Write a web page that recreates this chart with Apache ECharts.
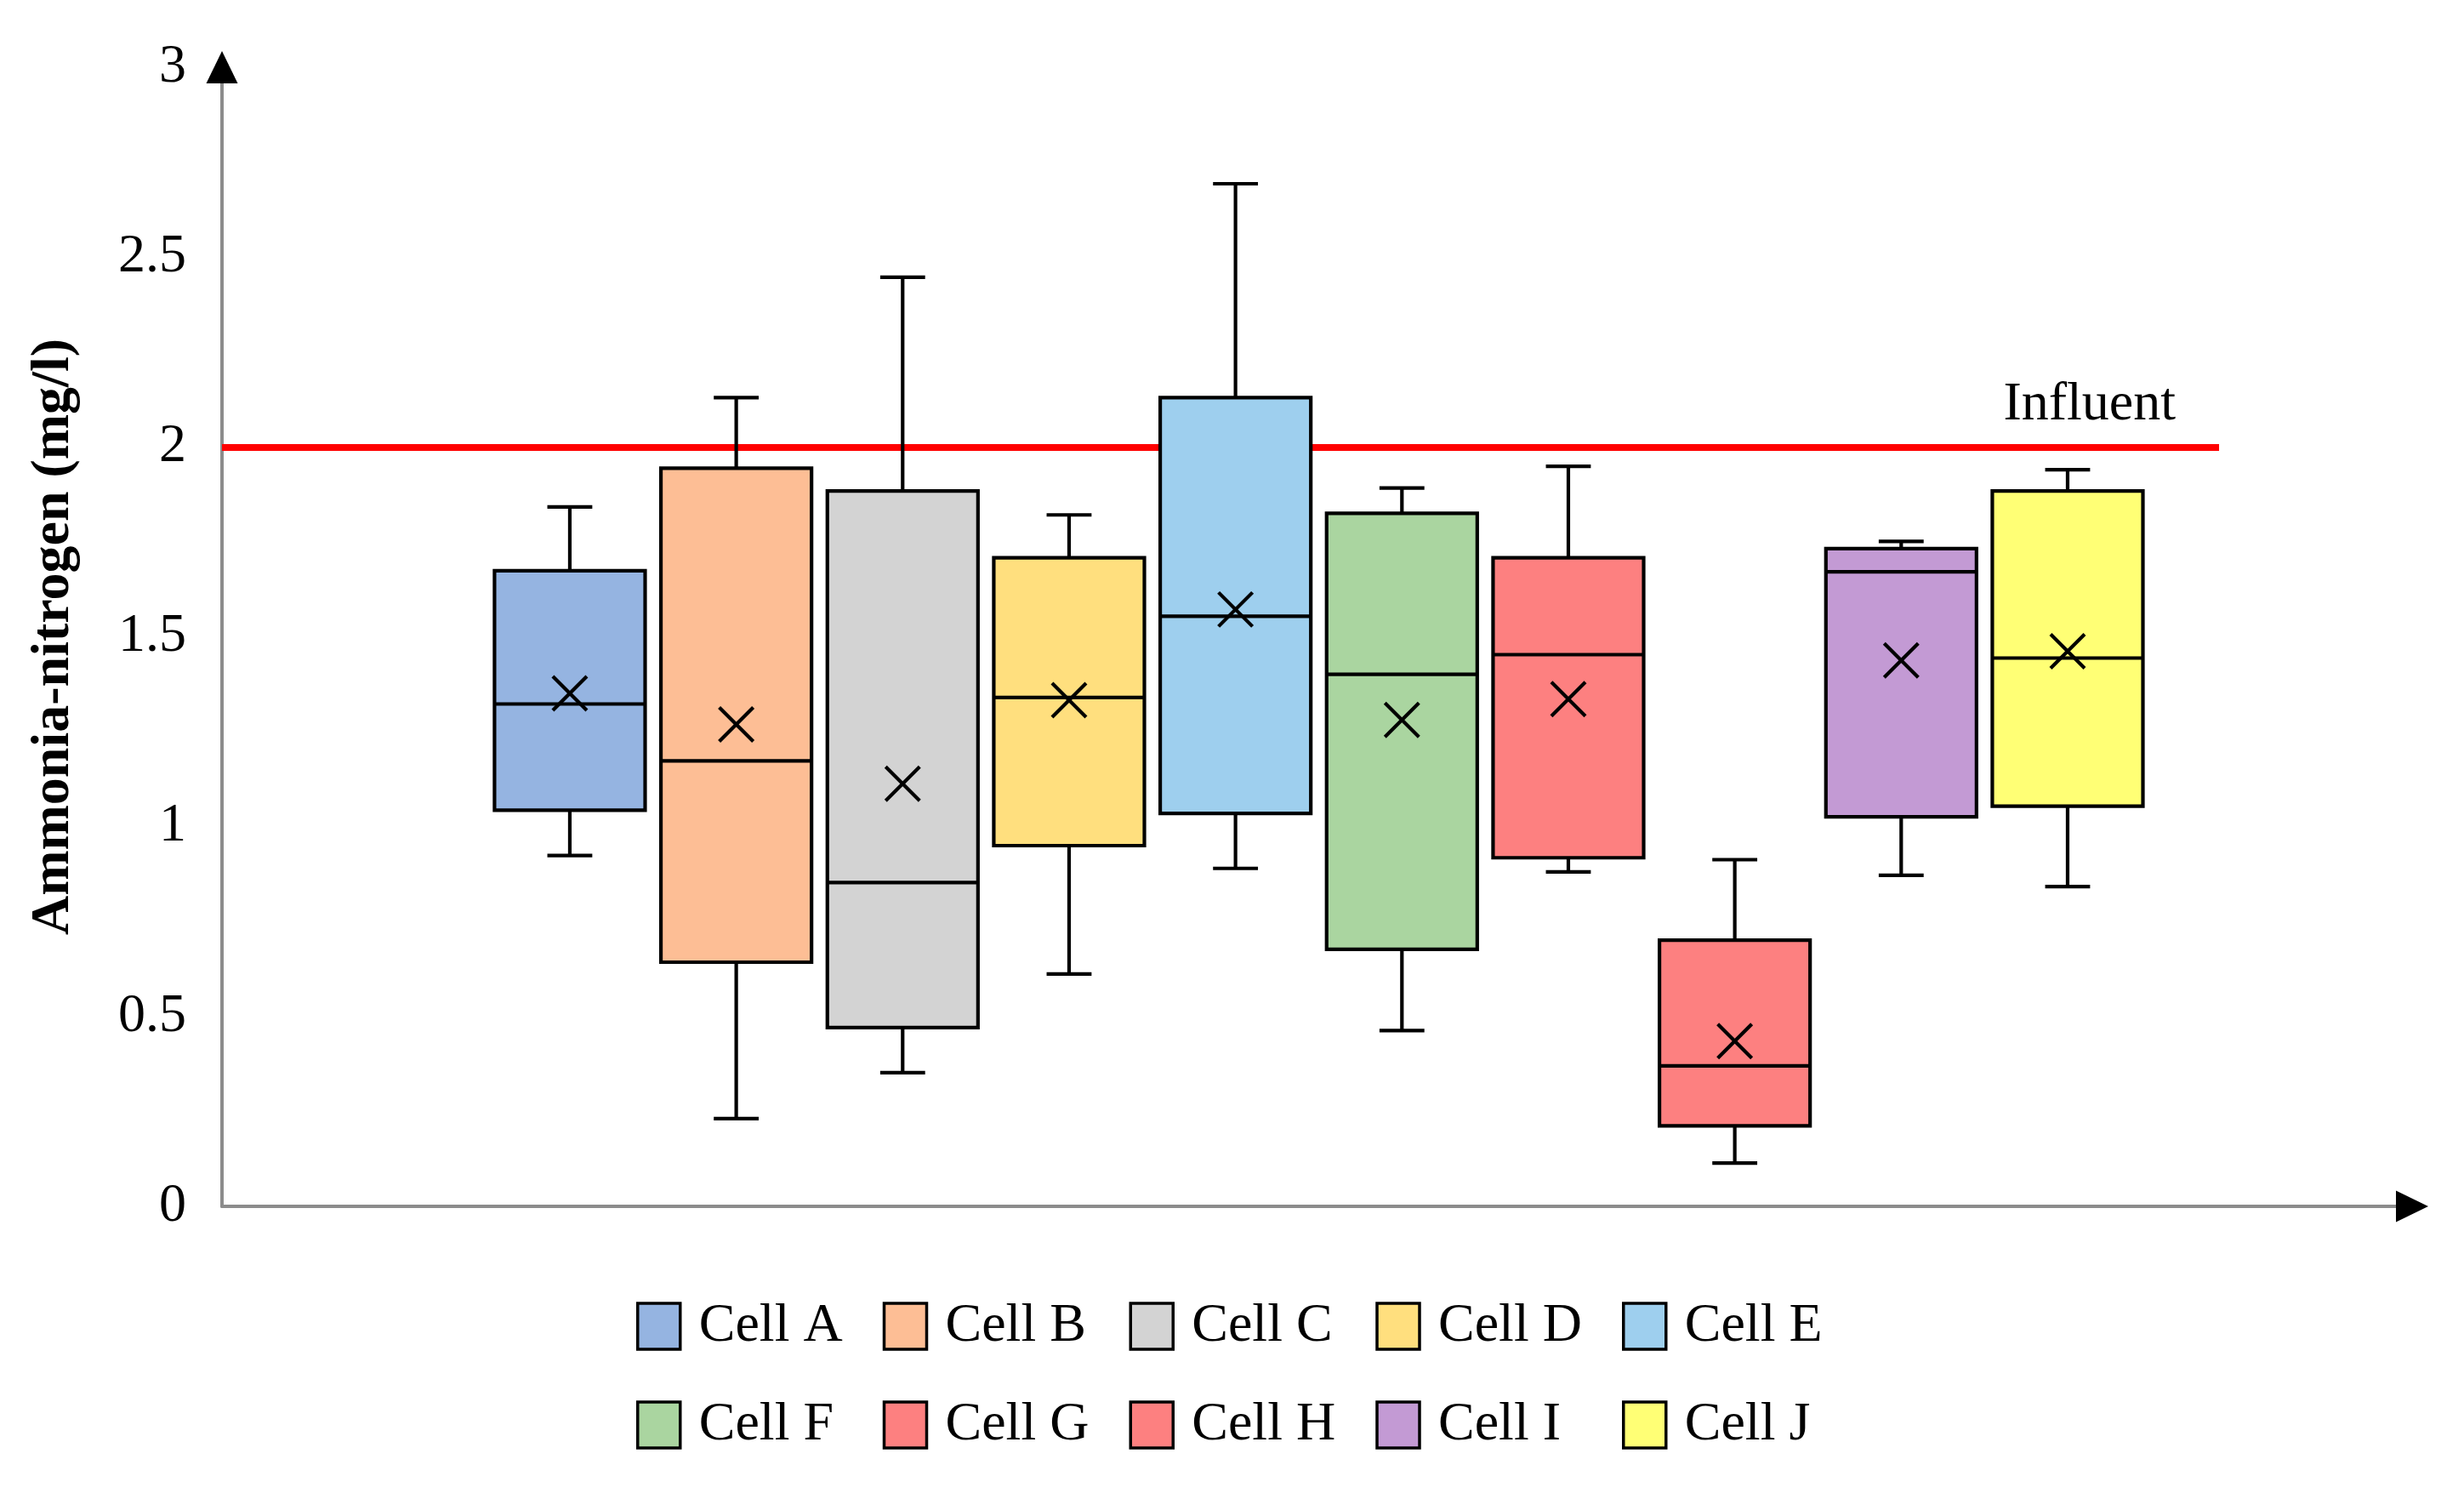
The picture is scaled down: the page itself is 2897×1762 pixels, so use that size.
<!DOCTYPE html>
<html>
<head>
<meta charset="utf-8">
<script src="https://cdn.jsdelivr.net/npm/echarts@6/dist/echarts.min.js"></script>
<style>
html,body{margin:0;padding:0;background:#ffffff;}
#chart{width:2897px;height:1762px;}
</style>
</head>
<body>
<div id="chart"></div>
<script>
// ---------------- DATA ----------------
const cells   = ['Cell A','Cell B','Cell C','Cell D','Cell E','Cell F','Cell G','Cell H','Cell I','Cell J'];
const mins    = [0.924, 0.231, 0.352, 0.612, 0.890, 0.463, 0.881, 0.114, 0.872, 0.842];
const q1s     = [1.043, 0.643, 0.471, 0.950, 1.035, 0.677, 0.918, 0.212, 1.026, 1.054];
const medians = [1.323, 1.173, 0.853, 1.340, 1.554, 1.401, 1.453, 0.370, 1.671, 1.444];
const q3s     = [1.674, 1.944, 1.884, 1.708, 2.130, 1.825, 1.708, 0.701, 1.732, 1.884];
const maxs    = [1.842, 2.130, 2.447, 1.821, 2.693, 1.892, 1.949, 0.913, 1.751, 1.940];
const means   = [1.351, 1.269, 1.113, 1.333, 1.572, 1.281, 1.336, 0.435, 1.438, 1.462];
const influent = 2;
const yTicks  = [0, 0.5, 1, 1.5, 2, 2.5, 3];
const influentLabel = 'Influent';
const yTitle = 'Ammonia-nitrogen (mg/l)';

// ---------------- STYLE / LAYOUT ----------------
const colors = ['#95b4e1','#fdbe95','#d3d3d3','#ffdf7e','#9ecfee','#aad5a0','#fd8080','#fd8080','#c39ad4','#ffff75'];
const FONT = 'Liberation Serif';
const xMax = 13.16;        // axis extent in category units
const firstPos = 2.09;     // offset of first box along the axis
const lineEnd = 12;        // where the influent line stops
const boxFrac = 0.905, capFrac = 0.27, meanHalf = 20, LW = 4.2;

function renderBox(params, api) {
  const x = api.value(0);
  const unit = api.size([1, 0])[0];
  const bw = unit * boxFrac, cw = unit * capFrac;
  const pMin = api.coord([x, api.value(1)]);
  const cx = pMin[0];
  const yMin = pMin[1];
  const yQ1 = api.coord([x, api.value(2)])[1];
  const yMed = api.coord([x, api.value(3)])[1];
  const yQ3 = api.coord([x, api.value(4)])[1];
  const yMax = api.coord([x, api.value(5)])[1];
  const yMean = api.coord([x, api.value(6)])[1];
  const st = {stroke: '#000', lineWidth: LW, fill: null};
  return {
    type: 'group',
    children: [
      {type: 'line', shape: {x1: cx, y1: yQ3, x2: cx, y2: yMax}, style: st},
      {type: 'line', shape: {x1: cx - cw / 2, y1: yMax, x2: cx + cw / 2, y2: yMax}, style: st},
      {type: 'line', shape: {x1: cx, y1: yQ1, x2: cx, y2: yMin}, style: st},
      {type: 'line', shape: {x1: cx - cw / 2, y1: yMin, x2: cx + cw / 2, y2: yMin}, style: st},
      {type: 'rect', shape: {x: cx - bw / 2, y: yQ3, width: bw, height: yQ1 - yQ3},
        style: {fill: api.visual('color'), stroke: '#000', lineWidth: LW}},
      {type: 'line', shape: {x1: cx - bw / 2, y1: yMed, x2: cx + bw / 2, y2: yMed}, style: st},
      {type: 'line', shape: {x1: cx - meanHalf, y1: yMean - meanHalf, x2: cx + meanHalf, y2: yMean + meanHalf}, style: st},
      {type: 'line', shape: {x1: cx - meanHalf, y1: yMean + meanHalf, x2: cx + meanHalf, y2: yMean - meanHalf}, style: st}
    ]
  };
}

const series = cells.map(function (name, i) {
  const s = {
    name: name,
    type: 'custom',
    renderItem: renderBox,
    itemStyle: {color: colors[i]},
    encode: {x: 0, y: [1, 2, 3, 4, 5, 6]},
    data: [[firstPos + i, mins[i], q1s[i], medians[i], q3s[i], maxs[i], means[i]]],
    z: 3
  };
  if (i === 0) {
    s.markLine = {
      silent: true,
      symbol: ['none', 'none'],
      z: 2,
      lineStyle: {color: '#ff0000', width: 8, type: 'solid'},
      label: {
        show: true, position: 'insideEndTop', formatter: influentLabel,
        fontFamily: FONT, fontSize: 64, color: '#000', distance: [51, 17]
      },
      data: [[{coord: [0, influent]}, {coord: [lineEnd, influent]}]]
    };
  }
  return s;
});

const yMin = yTicks[0], yMaxV = yTicks[yTicks.length - 1], yInt = yTicks[1] - yTicks[0];

const option = {
  animation: false,
  backgroundColor: '#ffffff',
  grid: {left: 261, top: 79, width: 2575, height: 1339, outerBoundsMode: 'none', containLabel: false},
  legend: {
    data: cells,
    icon: 'rect',
    left: 748, top: 1521, width: 1420,
    padding: 0,
    itemWidth: 50, itemHeight: 54, itemGap: 40,
    itemStyle: {borderColor: '#000', borderWidth: 3.5},
    textStyle: {fontFamily: FONT, fontSize: 64, color: '#000', width: 176, lineHeight: 76, padding: [0, 0, 0, 17]}
  },
  xAxis: [
    {
      type: 'value', min: 0, max: xMax,
      axisLine: {show: true, onZero: false, lineStyle: {color: '#8c8c8c', width: 4}},
      axisTick: {show: false}, axisLabel: {show: false}, splitLine: {show: false}
    },
    {
      type: 'value', min: 0, max: xMax, position: 'bottom',
      axisLine: {show: true, onZero: false, symbol: ['none', 'triangle'], symbolSize: [37, 38],
        lineStyle: {color: '#000', width: 0}},
      axisTick: {show: false}, axisLabel: {show: false}, splitLine: {show: false}
    }
  ],
  yAxis: [
    {
      type: 'value', min: yMin, max: yMaxV, interval: yInt,
      name: yTitle, nameLocation: 'middle', nameGap: 166, nameRotate: 90,
      nameTextStyle: {fontFamily: FONT, fontSize: 64, fontWeight: 'bold', color: '#000'},
      axisLine: {show: true, onZero: false, lineStyle: {color: '#8c8c8c', width: 4}},
      axisTick: {show: false}, splitLine: {show: false},
      axisLabel: {fontFamily: FONT, fontSize: 64, color: '#000', margin: 42}
    },
    {
      type: 'value', min: yMin, max: yMaxV, interval: yInt, position: 'left', offset: 0,
      axisLine: {show: true, onZero: false, symbol: ['none', 'triangle'], symbolSize: [37, 38],
        lineStyle: {color: '#000', width: 0}},
      axisTick: {show: false}, axisLabel: {show: false}, splitLine: {show: false}
    }
  ],
  series: series
};

const chart = echarts.init(document.getElementById('chart'), null, {renderer: 'canvas'});
chart.setOption(option);
</script>
</body>
</html>
